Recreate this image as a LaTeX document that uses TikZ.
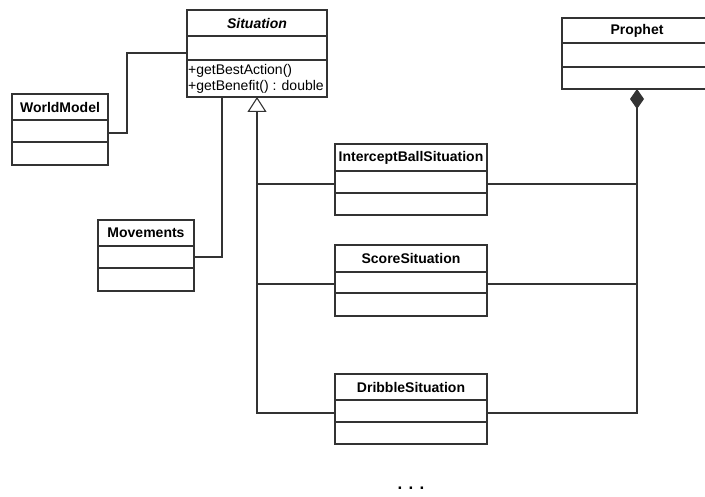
\documentclass[tikz,border=0pt]{standalone}
\usepackage{fontspec}
\setmainfont{Liberation Sans}
\usetikzlibrary{arrows.meta}

\tikzset{
  umlline/.style={draw=black!80, line width=1.2pt},
  classtitle/.style={umlline, rectangle, inner sep=0pt, outer sep=0pt, anchor=north west,
    font=\fontsize{14}{14}\selectfont\bfseries},
  classpart/.style={umlline, rectangle, inner sep=0pt, outer sep=0pt, anchor=north},
  link/.style={draw=black!80, line width=1.1pt},
  inherit/.style={link, -{Triangle[open, length=15pt, width=19pt, line width=1.1pt]}},
  compose/.style={link, {Diamond[length=20pt, width=14pt]}-}
}

\begin{document}
\begin{tikzpicture}[x=1pt, y=-1pt]
\useasboundingbox (0,0) rectangle (705,497);
\clip (0,0) rectangle (705,497);

% Abstract base class
\node[classtitle, minimum width=140, minimum height=26] (sit) at (187,10)
  {\itshape Situation};
\node[classpart, minimum width=140, minimum height=24] (sitA) at (sit.south) {};
\node[classpart, minimum width=140, minimum height=37] (sitO) at (sitA.south) {};
\node[anchor=west, align=left, inner sep=0pt, font=\fontsize{14}{16.5}\selectfont]
  (sitOps) at ([xshift=1pt, yshift=-0.5pt]sitO.west) {+getBestAction()\\+getBenefit() : double};

% Helper classes
\node[classtitle, minimum width=96, minimum height=26] (wm) at (12,94) {WorldModel};
\node[classpart, minimum width=96, minimum height=22] (wmA) at (wm.south) {};
\node[classpart, minimum width=96, minimum height=23] (wmO) at (wmA.south) {};

\node[classtitle, minimum width=96, minimum height=26] (mv) at (98,220) {Movements};
\node[classpart, minimum width=96, minimum height=22] (mvA) at (mv.south) {};
\node[classpart, minimum width=96, minimum height=23] (mvO) at (mvA.south) {};

% Concrete situations
\node[classtitle, minimum width=152, minimum height=27] (ib) at (335,144) {InterceptBallSituation};
\node[classpart, minimum width=152, minimum height=22] (ibA) at (ib.south) {};
\node[classpart, minimum width=152, minimum height=22] (ibO) at (ibA.south) {};

\node[classtitle, minimum width=152, minimum height=27] (sc) at (335,245) {ScoreSituation};
\node[classpart, minimum width=152, minimum height=21] (scA) at (sc.south) {};
\node[classpart, minimum width=152, minimum height=23] (scO) at (scA.south) {};

\node[classtitle, minimum width=152, minimum height=26] (ds) at (335,374) {DribbleSituation};
\node[classpart, minimum width=152, minimum height=22] (dsA) at (ds.south) {};
\node[classpart, minimum width=152, minimum height=22] (dsO) at (dsA.south) {};

% Owner of the situations
\node[classtitle, minimum width=150, minimum height=25] (pr) at (562,18) {Prophet};
\node[classpart, minimum width=150, minimum height=24] (prA) at (pr.south) {};
\node[classpart, minimum width=150, minimum height=22] (prO) at (prA.south) {};

% Associations to the base class
\coordinate (wmbend) at (127,53);
\draw[link] ([yshift=-2pt]wmA.east) -| (wmbend) -- (sit.west |- wmbend);
\draw[link] (mvA.east) -| ([xshift=-35pt]sitO.south);

% Generalization
\draw[inherit] ([yshift=-2pt]dsA.west) -| (sitO.south);
\draw[link] ([yshift=-2pt]ibA.west) -- ([yshift=-2pt]ibA.west -| sitO.south);
\draw[link] ([yshift=-1.5pt]scA.west) -- ([yshift=-1.5pt]scA.west -| sitO.south);

% Composition
\draw[compose] (prO.south) |- ([yshift=-2pt]dsA.east);
\draw[link] ([yshift=-2pt]ibA.east) -- ([yshift=-2pt]ibA.east -| prO.south);
\draw[link] ([yshift=-1.5pt]scA.east) -- ([yshift=-1.5pt]scA.east -| prO.south);

% Further situations omitted
\node[font=\fontsize{17}{17}\selectfont\bfseries] (more) at (411,488) {. . .};
\end{tikzpicture}
\end{document}
